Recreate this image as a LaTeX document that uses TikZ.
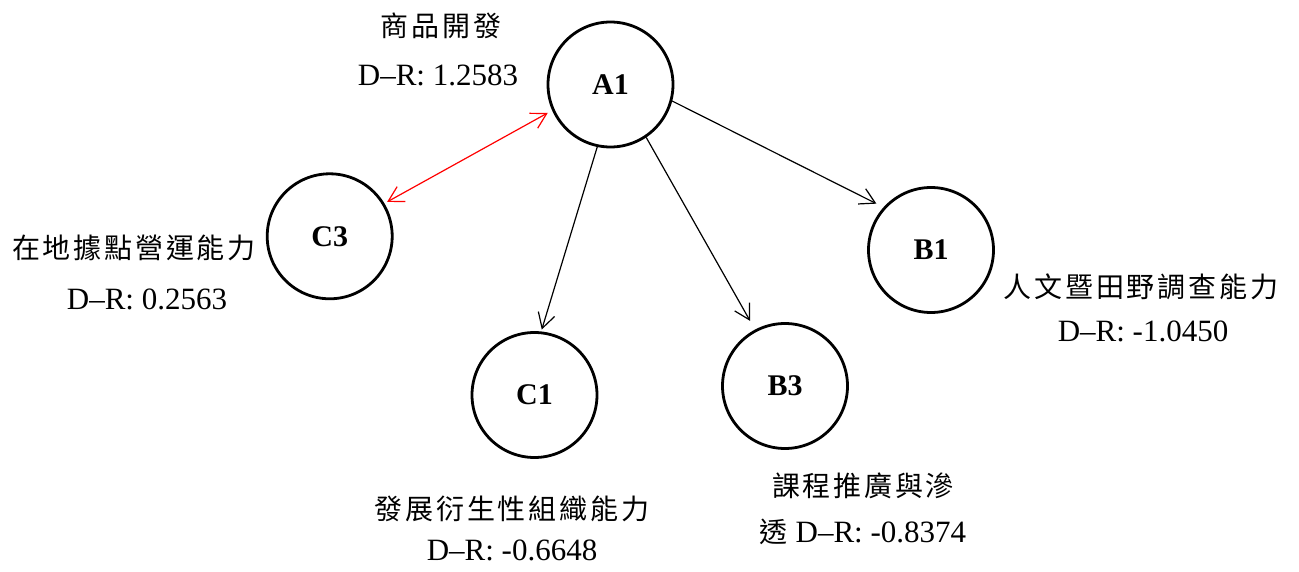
\documentclass[tikz,border=0pt]{standalone}
\usepackage{fontspec}
\setmainfont{Liberation Serif}
\newfontfamily\cjk{Noto Sans CJK TC}[LetterSpace=10]
\usetikzlibrary{arrows.meta}
\begin{document}
\begin{tikzpicture}[x=1pt,y=-1pt,
  nd/.style={circle, draw, line width=2.8pt, minimum size=125pt, inner sep=0pt,
    font=\fontsize{30}{32}\selectfont\bfseries},
  lat/.style={inner sep=0pt, font=\fontsize{31}{36}\selectfont},
  zh/.style={inner sep=0pt, font=\fontsize{28}{32}\selectfont\cjk},
  arr/.style={-{Straight Barb[length=15pt,width=17pt]}, line width=1.2pt},
  redarr/.style={{Straight Barb[length=15pt,width=17pt]}-{Straight Barb[length=15pt,width=17pt]}, line width=1.2pt, draw=red},
]
\useasboundingbox (0,0) rectangle (1299,572);

% circles
\node[nd] (A1) at (610.5,84.5) {\raisebox{-3.5pt}{A1}};
\node[nd] (C3) at (329.7,236.3) {\raisebox{-3.5pt}{C3}};
\node[nd] (B1) at (931,250) {\raisebox{-3.5pt}{B1}};
\node[nd] (C1) at (534.5,395) {\raisebox{-3pt}{C1}};
\node[nd] (B3) at (785,386) {\raisebox{-2pt}{B3}};

% labels
\node[zh]  (lA1a) at (441,26)  {商品開發};
\node[lat] (lA1b) at (438,75)  {D–R: 1.2583};
\node[zh]  (lC3a) at (134,248) {在地據點營運能力};
\node[lat] (lC3b) at (147,299) {D–R: 0.2563};
\node[zh]  (lB1a) at (1141,287) {人文暨田野調查能力};
\node[lat] (lB1b) at (1143,331) {D–R: -1.0450};
\node[zh]  (lC1a) at (512,509) {發展衍生性組織能力};
\node[lat] (lC1b) at (512,550) {D–R: -0.6648};
\node[zh]  (lB3a) at (863,486) {課程推廣與滲};
\node[lat] (lB3b) at (863,532) {{\fontsize{28}{32}\selectfont\cjk 透}\ D–R: -0.8374};

% connectors
\draw[arr, shorten >=8pt] (A1.-15) -- (B1.138);
\draw[arr, shorten >=2pt] (A1.-102) -- (C1.84);
\draw[arr, shorten >=10pt] (A1.-56.5) -- (B3.118);
\draw[redarr, shorten <=5pt, shorten >=3pt] (A1.-156.6) -- (C3.31.3);
\end{tikzpicture}
\end{document}
